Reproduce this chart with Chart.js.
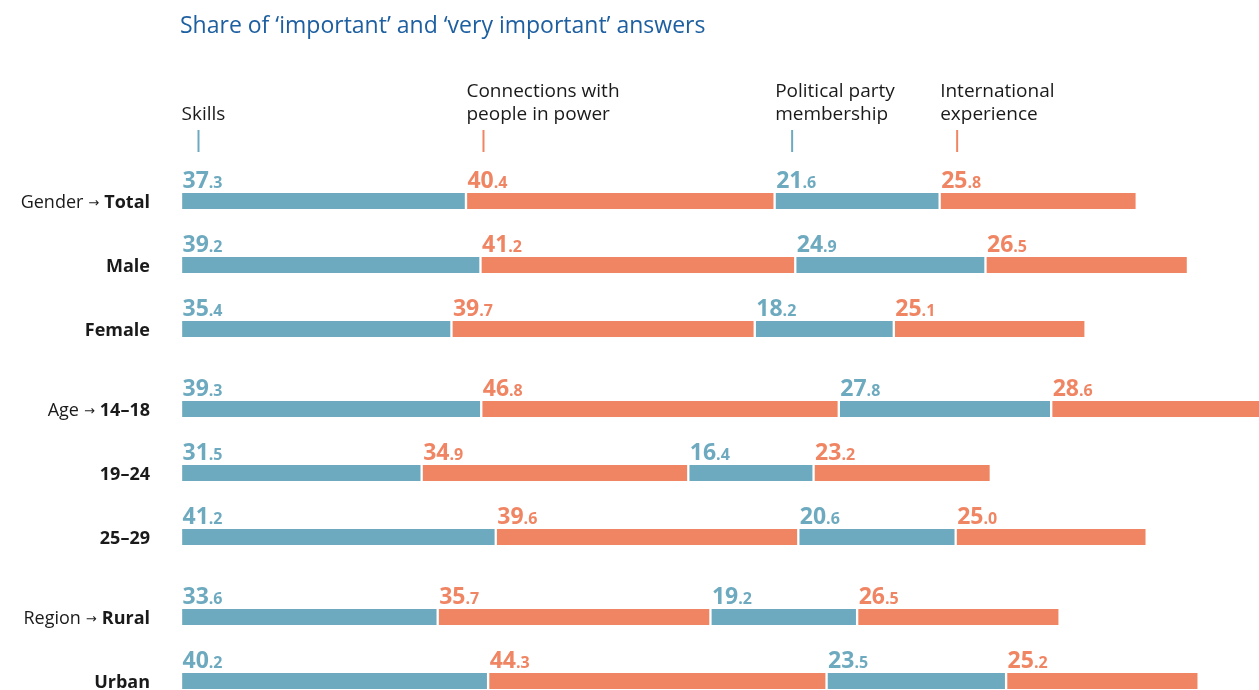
<!DOCTYPE html>
<html>
<head>
<meta charset="utf-8">
<script src="https://cdn.jsdelivr.net/npm/chart.js@4"></script>
<style>
  body { margin: 0; background: #fff; }
  canvas { display: block; }
</style>
</head>
<body>
<canvas id="chart" width="1259" height="690"></canvas>
<script>
const title = "Share of \u2018important\u2019 and \u2018very important\u2019 answers";
const groups = ["Gender", "Age", "Region"];
const rows = ["Total", "Male", "Female", "14\u201318", "19\u201324", "25\u201329", "Rural", "Urban"];
const rowGroup = [0, 0, 0, 1, 1, 1, 2, 2];
const factors = [["Skills"], ["Connections with", "people in power"], ["Political party", "membership"], ["International", "experience"]];
const skills = [37.3, 39.2, 35.4, 39.3, 31.5, 41.2, 33.6, 40.2];
const connections = [40.4, 41.2, 39.7, 46.8, 34.9, 39.6, 35.7, 44.3];
const party = [21.6, 24.9, 18.2, 27.8, 16.4, 20.6, 19.2, 23.5];
const international = [25.8, 26.5, 25.1, 28.6, 23.2, 25.0, 26.5, 25.2];

const blue = "#6eaabf";
const orange = "#f08563";
const colors = [blue, orange, blue, orange];
const font = "'Open Sans', sans-serif";

// row slot on the y scale: 4 slots per row plus one extra between groups
function rowPos(i) { return i * 4 + rowGroup[i]; }

function series(values) {
  return values.map((v, i) => ({ x: v, y: rowPos(i) }));
}

const labelPlugin = {
  id: "labels",
  afterDraw(chart) {
    const c = chart.ctx;
    c.save();
    c.textBaseline = "alphabetic";

    // title
    c.fillStyle = "#1d5fa0";
    c.font = "23px " + font;
    c.textAlign = "left";
    c.fillText(title, 180, 33);

    // factor headers + ticks (placed at the Total row segments)
    chart.data.datasets.forEach((ds, d) => {
      const el = chart.getDatasetMeta(d).data[0];
      const x0 = Math.min(el.base, el.x) + 1.5;
      const lines = factors[d];
      c.fillStyle = "#1a1a1a";
      c.font = "19px " + font;
      lines.forEach((t, k) => {
        c.fillText(t, x0 - 1, 120 - (lines.length - 1 - k) * 23);
      });
      c.strokeStyle = colors[d];
      c.lineWidth = 2;
      c.beginPath();
      c.moveTo(x0 + 16, 130);
      c.lineTo(x0 + 16, 152);
      c.stroke();
    });

    // value labels
    chart.data.datasets.forEach((ds, d) => {
      chart.getDatasetMeta(d).data.forEach((el, i) => {
        const v = ds.data[i].x.toFixed(1).split(".");
        const x0 = Math.min(el.base, el.x) + 1.5;
        const y0 = el.y - 13;
        c.fillStyle = colors[d];
        c.textAlign = "left";
        c.font = "bold 23px " + font;
        c.fillText(v[0], x0, y0);
        const w = c.measureText(v[0]).width;
        c.font = "bold 16px " + font;
        c.fillText("." + v[1], x0 + w, y0);
      });
    });

    // row labels
    const meta = chart.getDatasetMeta(0);
    rows.forEach((name, i) => {
      const y = meta.data[i].y + 7;
      c.textAlign = "right";
      c.fillStyle = "#1a1a1a";
      c.font = "bold 18px " + font;
      c.fillText(name, 150, y);
      const first = i === 0 || rowGroup[i] !== rowGroup[i - 1];
      if (first) {
        let x = 150 - c.measureText(name).width - 5;
        c.font = "13px 'DejaVu Sans'";
        c.fillText("\u2192", x, y - 1);
        x -= c.measureText("\u2192").width + 5;
        c.font = "18px " + font;
        c.fillText(groups[rowGroup[i]], x, y);
      }
    });
    c.restore();
  }
};

const names = ["Skills", "Connections with people in power", "Political party membership", "International experience"];
const values = [skills, connections, party, international];

new Chart(document.getElementById("chart").getContext("2d"), {
  type: "bar",
  data: {
    datasets: values.map((vals, d) => ({
      label: names[d],
      data: series(vals),
      backgroundColor: colors[d],
      borderColor: "#ffffff",
      borderWidth: { left: 1.5, right: 1.5, top: 0, bottom: 0 },
      borderSkipped: false,
      barThickness: 16
    }))
  },
  options: {
    indexAxis: "y",
    responsive: false,
    animation: false,
    layout: { padding: { left: 181, right: 0, top: 41, bottom: 0 } },
    scales: {
      x: { stacked: true, min: 0, max: 141.1, display: false, offset: false },
      y: { type: "linear", stacked: true, reverse: true, min: -10, max: 30.5625, display: false, offset: false }
    },
    plugins: {
      legend: { display: false },
      tooltip: { enabled: false }
    }
  },
  plugins: [labelPlugin]
});
</script>
</body>
</html>
